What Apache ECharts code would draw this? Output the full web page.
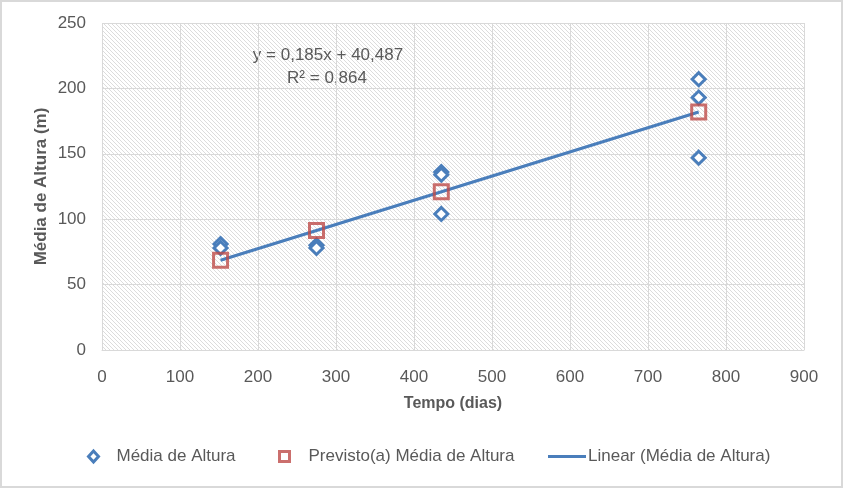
<!DOCTYPE html>
<html>
<head>
<meta charset="utf-8">
<script src="https://cdn.jsdelivr.net/npm/echarts@6/dist/echarts.min.js"></script>
<style>
html,body{margin:0;padding:0;background:#fff;}
#c{width:843px;height:488px;box-sizing:border-box;border:2px solid #d9d9d9;}
</style>
</head>
<body>
<div id="c"></div>
<script>
// Data
var mediaAltura = [[152, 81], [152, 78], [275, 80], [275, 78], [435, 136], [435, 134], [435, 104], [765, 207], [765, 193], [765, 147]];
var previsto = [[152, 68.6], [275, 91.4], [435, 121.0], [765, 182.0]];
var linear = [[152, 68.6], [765, 182.0]];
var xTicks = [0, 100, 200, 300, 400, 500, 600, 700, 800, 900];
var yTicks = [0, 50, 100, 150, 200, 250];
var equation = ['y = 0,185x + 40,487', 'R² = 0,864'];

var FONT = '"Liberation Sans", Arial, sans-serif';
var TXT = '#595959';

// Hatch pattern for plot background
var pc = document.createElement('canvas');
pc.width = 4; pc.height = 4;
var g = pc.getContext('2d');
g.fillStyle = '#ffffff'; g.fillRect(0, 0, 4, 4);
g.strokeStyle = '#dcdcdc'; g.lineWidth = 1;
g.beginPath();
g.moveTo(-1, -1); g.lineTo(5, 5);
g.moveTo(-3, 1); g.lineTo(3, 7);
g.moveTo(1, -3); g.lineTo(7, 3);
g.stroke();

var chart = echarts.init(document.getElementById('c'), null, {renderer: 'canvas'});
var legendBase = {
  bottom: 16, itemGap: 10, selectedMode: false
};
chart.setOption({
  animation: false,
  grid: {left: 100, right: 37, top: 21, bottom: 136, show: true,
    backgroundColor: {image: pc, repeat: 'repeat'}, borderWidth: 0},
  xAxis: {
    type: 'value', min: xTicks[0], max: xTicks[xTicks.length - 1], interval: 100,
    name: 'Tempo (dias)', nameLocation: 'middle', nameGap: 46, nameMoveOverlap: false,
    nameTextStyle: {fontFamily: FONT, fontSize: 16, fontWeight: 'bold', color: TXT},
    axisLine: {lineStyle: {color: '#d9d9d9'}}, axisTick: {show: false},
    axisLabel: {fontFamily: FONT, fontSize: 17, color: TXT, margin: 19},
    splitLine: {show: true, lineStyle: {color: '#d9d9d9'}}
  },
  yAxis: {
    type: 'value', min: yTicks[0], max: yTicks[yTicks.length - 1], interval: 50,
    name: 'Média de Altura (m)', nameLocation: 'middle', nameGap: 52, nameMoveOverlap: false,
    nameTextStyle: {fontFamily: FONT, fontSize: 17, fontWeight: 'bold', color: TXT},
    axisLine: {show: false}, axisTick: {show: false},
    axisLabel: {fontFamily: FONT, fontSize: 17, color: TXT, margin: 16},
    splitLine: {show: true, lineStyle: {color: '#d9d9d9'}}
  },
  legend: [
    Object.assign({}, legendBase, {left: 80,
      data: [{name: 'Média de Altura', icon: 'diamond', itemStyle: {color: '#ffffff', borderColor: '#4a7ebb', borderWidth: 3}}],
      itemWidth: 10, itemHeight: 11,
      textStyle: {fontFamily: FONT, fontSize: 17, color: TXT, padding: [0, 0, 0, 13]}}),
    Object.assign({}, legendBase, {left: 271,
      data: [{name: 'Previsto(a) Média de Altura', icon: 'rect', itemStyle: {color: '#ffffff', borderColor: '#be4b48', borderWidth: 3}}],
      itemWidth: 10, itemHeight: 10,
      textStyle: {fontFamily: FONT, fontSize: 17, color: TXT, padding: [0, 0, 0, 14]}}),
    Object.assign({}, legendBase, {left: 541,
      data: [{name: 'Linear (Média de Altura)', icon: 'path://M0,0H40V3H0Z'}], itemWidth: 38, itemHeight: 3,
      textStyle: {fontFamily: FONT, fontSize: 17, color: TXT, padding: [0, 0, 0, -3]}})
  ],
  series: [
    {name: 'Linear (Média de Altura)', type: 'line', data: linear, symbol: 'none',
      lineStyle: {color: '#4a7ebb', width: 3}, itemStyle: {color: '#4a7ebb'}, z: 3},
    {name: 'Média de Altura', type: 'scatter', data: mediaAltura, symbol: 'diamond', symbolSize: 13,
      itemStyle: {color: '#ffffff', borderColor: '#4a7ebb', borderWidth: 3, opacity: 1}, z: 2},
    {name: 'Previsto(a) Média de Altura', type: 'scatter', data: previsto, symbol: 'rect', symbolSize: 14,
      itemStyle: {color: 'rgba(255,255,255,0)', borderColor: '#be4b48', borderWidth: 3}, z: 4}
  ],
  graphic: [
    {type: 'text', x: 326, y: 53, style: {text: equation[0], font: '17px ' + FONT, fill: TXT, textAlign: 'center', textVerticalAlign: 'middle'}},
    {type: 'text', x: 325, y: 76, style: {text: equation[1], font: '17px ' + FONT, fill: TXT, textAlign: 'center', textVerticalAlign: 'middle'}}
  ]
});
</script>
</body>
</html>
